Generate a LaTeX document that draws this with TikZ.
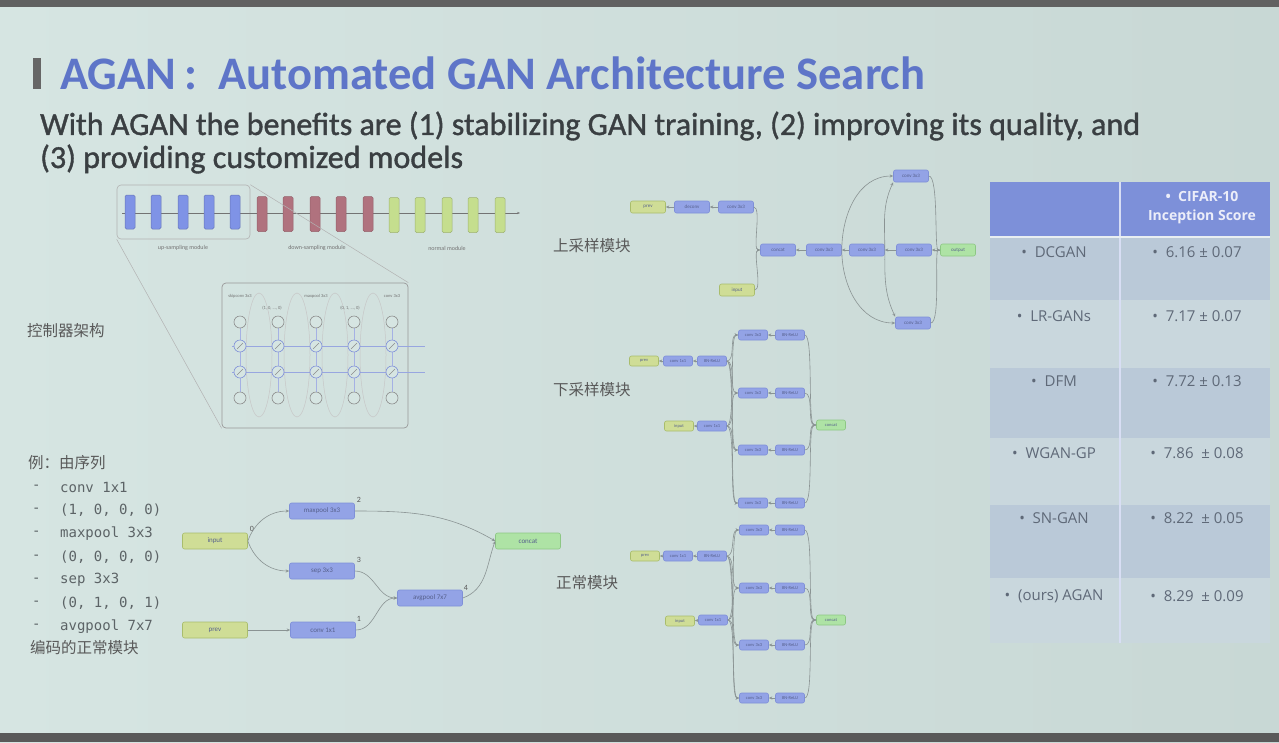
\documentclass[tikz,border=0pt]{standalone}
\usepackage{fontspec}
\setmainfont{Carlito}
\newfontfamily\subf[FakeBold=1.2]{Carlito}
\newfontfamily\tabf{Open Sans}
\newfontfamily\cjk{Noto Sans CJK SC}
\newfontfamily\monof{DejaVu Sans Mono}
\usetikzlibrary{arrows.meta,calc}
\definecolor{bgl}{HTML}{D6E5E2}
\definecolor{bgr}{HTML}{C8D8D5}
\definecolor{titleblue}{HTML}{5E75C8}
\definecolor{subgray}{HTML}{3A3F42}
\definecolor{nblue}{HTML}{93A3E6}
\definecolor{nbluedr}{HTML}{7F90D8}
\definecolor{nyel}{HTML}{CFDD96}
\definecolor{nyeldr}{HTML}{A9BD6C}
\definecolor{ngrn}{HTML}{AEE3A5}
\definecolor{ngrndr}{HTML}{8DC784}
\definecolor{edgec}{HTML}{8A9393}
\definecolor{lblc}{HTML}{56608C}
\definecolor{hdr}{HTML}{7D90D9}
\definecolor{rowd}{HTML}{BAC9D8}
\definecolor{rowl}{HTML}{C9D7DD}
\definecolor{tabtxt}{HTML}{5F6978}
\definecolor{codec}{HTML}{5C6366}
\definecolor{stripred}{HTML}{B0727E}
\definecolor{stripgrn}{HTML}{C5DE8E}
\definecolor{stripblu}{HTML}{7F93E6}
\tikzset{
  box/.style={rounded corners=2pt, inner sep=0pt, line width=0.6pt, font=\fontsize{7}{8}\selectfont, text=lblc},
  bb/.style={box, fill=nblue, draw=nbluedr},
  ib/.style={box, fill=nyel, draw=nyeldr},
  ob/.style={box, fill=ngrn, draw=ngrndr},
  big/.style={minimum width=65pt, minimum height=16pt},
  sm/.style={minimum width=35pt, minimum height=12pt, font=\fontsize{5}{6}\selectfont},
  xs/.style={minimum width=29pt, minimum height=10pt, font=\fontsize{4.5}{5}\selectfont},
  edge/.style={draw=edgec, line width=0.6pt, -{Stealth[length=3.5pt,width=3pt]}},
  numl/.style={font=\fontsize{8}{9}\selectfont, text=black!65, inner sep=0pt},
  cjkl/.style={font=\cjk\fontsize{15.5}{17}\selectfont, text=black!65, anchor=west, inner sep=0pt},
  codel/.style={font=\monof\fontsize{14}{16}\selectfont, text=codec, anchor=west, inner sep=0pt},
  tabl/.style={font=\tabf\fontsize{15}{17}\selectfont, text=tabtxt, inner sep=0pt},
  strip/.style={rounded corners=1.5pt, minimum width=10pt, inner sep=0pt, line width=0.5pt},
  ctl/.style={circle, draw=black!45, line width=0.6pt, minimum size=12pt, inner sep=0pt, fill=bgl},
}
\begin{document}
\begin{tikzpicture}[x=1pt,y=-1pt]
\useasboundingbox (0,0) rectangle (1279,742);
% background
\shade[left color=bgl, right color=bgr] (0,0) rectangle (1279,742);
\fill[black!62] (0,0) rectangle (1279,7);
\fill[black!65] (0,733) rectangle (1279,742);

% title
\fill[black!60] (33,58) rectangle (41,89);
\node[anchor=west, inner sep=0pt, text=titleblue] (title) at (60,73)
  {\resizebox{865pt}{!}{\bfseries AGAN\,:\ \ Automated GAN Architecture Search}};
\node[anchor=west, inner sep=0pt, text=subgray] (sub1) at (40,126)
  {\resizebox{1100pt}{!}{\subf With AGAN the benefits are (1) stabilizing GAN training, (2) improving its quality, and}};
\node[anchor=west, inner sep=0pt, text=subgray] (sub2) at (40,159)
  {\resizebox{423pt}{!}{\subf (3) providing customized models}};

% ---------- top strip ----------
\node[draw=black!30, rounded corners=4pt, line width=0.6pt, minimum width=133pt, minimum height=54pt, inner sep=0pt] (stripbox) at (183.5,212) {};
\coordinate (stripend) at (520,213);
\coordinate (stripstart) at (122,213);
\draw[black!55, line width=0.5pt, -{Stealth[length=3pt]}] (stripstart) -- (stripend);
\foreach \x [count=\i] in {130,156,183,209,235}
  \node[strip, fill=stripblu, draw=stripblu!80!black, minimum height=34pt] (sb\i) at (\x,212) {};
\foreach \x [count=\i] in {262,288,315,341,368}
  \node[strip, fill=stripred, draw=stripred!85!black, minimum height=35pt] (sr\i) at (\x,214) {};
\foreach \x [count=\i] in {394,420,447,473,500}
  \node[strip, fill=stripgrn, draw=stripgrn!80!black, minimum height=35pt] (sg\i) at (\x,215) {};
\node[font=\fontsize{6}{7}\selectfont, text=black!55] (lup) at (183,248) {up-sampling module};
\node[font=\fontsize{6}{7}\selectfont, text=black!55] (ldown) at (317,248) {down-sampling module};
\node[font=\fontsize{6}{7}\selectfont, text=black!55] (lnorm) at (447,248) {normal module};

% ---------- controller ----------
\node[draw=black!40, rounded corners=4pt, line width=0.7pt, minimum width=186pt, minimum height=145pt, inner sep=0pt] (ctrl) at (315,355.5) {};
\draw[black!30, line width=0.5pt] (stripbox.south west) -- (ctrl.south west);
\draw[black!30, line width=0.5pt] (stripbox.north east) -- (ctrl.north east);
\foreach \x in {259,297,335,373}
  \draw[black!22, line width=0.5pt] (\x,355) ellipse [x radius=13, y radius=62];
\draw[nbluedr!80, line width=0.7pt] (232,346) -- (425,346);
\draw[nbluedr!80, line width=0.7pt] (232,372) -- (425,372);
\foreach \x [count=\i] in {240,278,316,354,392} {
  \draw[nbluedr!70, line width=0.6pt] (\x,322) -- (\x,398);
  \node[ctl] (ca\i) at (\x,322) {};
  \node[ctl, draw=nbluedr] (cb\i) at (\x,346) {};
  \draw[black!45, line width=0.5pt] ($(cb\i)+(-3,3)$) -- ($(cb\i)+(3,-3)$);
  \node[ctl, draw=nbluedr] (cc\i) at (\x,372) {};
  \draw[black!45, line width=0.5pt] ($(cc\i)+(-3,3)$) -- ($(cc\i)+(3,-3)$);
  \node[ctl] (cd\i) at (\x,398) {};
}
\node[font=\fontsize{4.5}{5}\selectfont, text=black!55] (ct1) at (240,296) {skipconv 3x3};
\node[font=\fontsize{4.5}{5}\selectfont, text=black!55] (ct2) at (316,296) {maxpool 3x3};
\node[font=\fontsize{4.5}{5}\selectfont, text=black!55] (ct3) at (392,296) {conv 3x3};
\node[font=\fontsize{4.5}{5}\selectfont, text=black!55] (ct4) at (272,308) {(1, 0, ..., 0)};
\node[font=\fontsize{4.5}{5}\selectfont, text=black!55] (ct5) at (350,308) {(0, 1, ..., 0)};
\node[cjkl] (lctrl) at (27,331) {控制器架构};

% ---------- code list ----------
\node[cjkl] (lex) at (28,463) {例：由序列};
\foreach \t [count=\i] in {conv 1x1,{(1, 0, 0, 0)},maxpool 3x3,{(0, 0, 0, 0)},sep 3x3,{(0, 1, 0, 1)},avgpool 7x7} {
  \node[codel] (dash\i) at (32,464+23.2*\i) {-};
  \node[codel] (code\i) at (60,464+23.2*\i) {\t};
}
\node[cjkl] (lenc) at (30,648) {编码的正常模块};

% ---------- normal cell example ----------
\node[ib,big] (cin) at (215,541) {input};
\node[ib,big] (cprev) at (215,630) {prev};
\node[bb,big] (cmp) at (322,511) {maxpool 3x3};
\node[bb,big] (csep) at (322,571) {sep 3x3};
\node[bb,big] (cconv) at (323,630) {conv 1x1};
\node[bb,big] (cavg) at (430,598) {avgpool 7x7};
\node[ob,big] (ccat) at (528,541) {concat};
\node[numl] (n0) at (252,529) {0};
\node[numl] (n2) at (359,500) {2};
\node[numl] (n3) at (359,560) {3};
\node[numl] (n1) at (359,619) {1};
\node[numl] (n4) at (466,588) {4};
\draw[edge] (cin.east) to[out=70,in=180] (cmp.west);
\draw[edge] (cin.east) to[out=-70,in=180] (csep.west);
\draw[edge] (cprev.east) -- (cconv.west);
\draw[edge] (cmp.east) to[out=0,in=150] (ccat.west);
\draw[edge] (csep.east) to[out=0,in=180] (cavg.west);
\draw[edge] (cconv.east) to[out=0,in=180] (cavg.west);
\draw[edge] (cavg.east) to[out=20,in=-110] (ccat.west);

% ---------- up-sampling module ----------
\node[cjkl] (lupm) at (553,246) {上采样模块};
\node[ib,sm] (uprev) at (648,207) {prev};
\node[bb,sm] (u1) at (692,207) {deconv};
\node[bb,sm] (u2) at (736,207) {conv 3x3};
\node[ib,sm] (uin) at (737,290) {input};
\node[bb,sm] (ucat) at (778,250) {concat};
\node[bb,sm] (uc1) at (824,250) {conv 3x3};
\node[bb,sm] (uc2) at (867,250) {conv 3x3};
\node[bb,sm] (uc3) at (914,250) {conv 3x3};
\node[ob,sm] (uout) at (958,250) {output};
\node[bb,sm] (ut) at (911,176) {conv 3x3};
\node[bb,sm] (ub) at (913,323) {conv 3x3};
\draw[edge] (u1) -- (uprev);
\draw[edge] (u2) -- (u1);
\draw[edge] (u2.east) .. controls +(8,0) and +(-8,0) .. (ucat.west);
\draw[edge] (uin.east) .. controls +(8,0) and +(-8,0) .. (ucat.west);
\draw[edge] (uc1) -- (ucat);
\draw[edge] (uc2) -- (uc1);
\draw[edge] (uc3) -- (uc2);
\draw[edge] (uout) -- (uc3);
\draw[edge] (uc1.east) to[out=90,in=180] (ut.west);
\draw[edge] (uc1.east) to[out=-90,in=180] (ub.west);
\draw[edge] (uc2.east) to[out=90,in=-115] (ut.south west);
\draw[edge] (uc2.east) to[out=-90,in=115] (ub.north west);
\draw[edge] (ut.east) .. controls +(10,0) and +(-6,0) .. (uout.west);
\draw[edge] (ub.east) .. controls +(10,0) and +(-6,0) .. (uout.west);

% ---------- down-sampling module ----------
\node[cjkl] (ldownm) at (553,390) {下采样模块};
\node[ib,xs] (dprev) at (644,361) {prev};
\node[bb,xs] (d1) at (678,361) {conv 1x1};
\node[bb,xs] (d2) at (712,361) {BN-ReLU};
\node[ib,xs] (din) at (679,426) {input};
\node[bb,xs] (d3) at (712,426) {conv 1x1};
\node[ob,xs] (dout) at (831,425) {concat};
\draw[edge] (d1) -- (dprev);
\draw[edge] (d2) -- (d1);
\draw[edge] (d3) -- (din);
\foreach \y [count=\i] in {335,393,450,503} {
  \node[bb,xs] (dl\i) at (753,\y) {conv 3x3};
  \node[bb,xs] (dr\i) at (790,\y) {BN-ReLU};
  \draw[edge] (dr\i) -- (dl\i);
  \draw[edge] (d2.east) .. controls +(9,0) and +(-9,0) .. (dl\i.west);
  \draw[edge] (d3.east) .. controls +(9,0) and +(-9,0) .. (dl\i.west);
  \draw[edge] (dr\i.east) .. controls +(9,0) and +(-9,0) .. (dout.west);
}

% ---------- normal module ----------
\node[cjkl] (lnormm) at (556,583) {正常模块};
\node[ib,xs] (nprev) at (645,556) {prev};
\node[bb,xs] (n1b) at (678,556) {conv 1x1};
\node[bb,xs] (n2b) at (712,556) {BN-ReLU};
\node[ib,xs] (nin) at (680,621) {input};
\node[bb,xs] (n3b) at (713,620) {conv 1x1};
\node[ob,xs] (nout) at (831,620) {concat};
\draw[edge] (n1b) -- (nprev);
\draw[edge] (n2b) -- (n1b);
\draw[edge] (n3b) -- (nin);
\foreach \y [count=\i] in {530,588,645,698} {
  \node[bb,xs] (nl\i) at (754,\y) {conv 3x3};
  \node[bb,xs] (nr\i) at (790,\y) {BN-ReLU};
  \draw[edge] (nr\i) -- (nl\i);
  \draw[edge] (n2b.east) .. controls +(9,0) and +(-9,0) .. (nl\i.west);
  \draw[edge] (n3b.east) .. controls +(9,0) and +(-9,0) .. (nl\i.west);
  \draw[edge] (nr\i.east) .. controls +(9,0) and +(-9,0) .. (nout.west);
}

% ---------- table ----------
\fill[hdr] (990,182) rectangle (1270,236);
\fill[rowd] (990,238) rectangle (1270,300);
\fill[rowl] (990,300) rectangle (1270,368);
\fill[rowd] (990,368) rectangle (1270,438);
\fill[rowl] (990,438) rectangle (1270,505);
\fill[rowd] (990,505) rectangle (1270,578);
\fill[rowl] (990,578) rectangle (1270,643);
\draw[white!70!hdr, line width=1.5pt] (1120,182) -- (1120,643);
\draw[white!60!rowl, line width=1.2pt] (990,237) -- (1270,237);
\node[font=\tabf\bfseries\fontsize{14}{16}\selectfont, text=white!85!hdr, align=center, inner sep=0pt] (th) at (1202,208)
  {\textbullet\ \ CIFAR-10\\[3pt]Inception Score};
\foreach \m/\s/\y [count=\i] in {DCGAN/6.16 ± 0.07/252, LR-GANs/7.17 ± 0.07/316, DFM/7.72 ± 0.13/381, WGAN-GP/7.86\ \ ± 0.08/453, SN-GAN/8.22\ \ ± 0.05/518, (ours) AGAN/8.29\ \ ± 0.09/596} {
  \node[tabl] (tm\i) at (1054,\y) {\textbullet\ \ \m};
  \node[tabl] (ts\i) at (1197,\y) {\textbullet\ \ \s};
}
\end{tikzpicture}
\end{document}
